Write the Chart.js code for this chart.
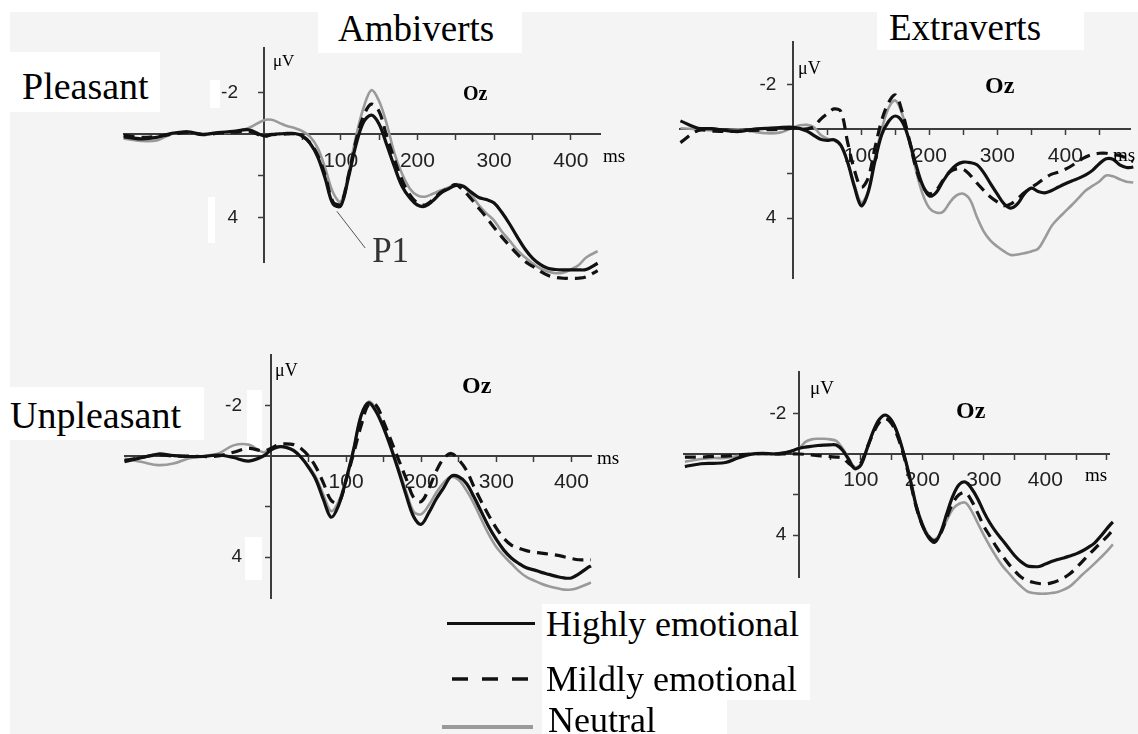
<!DOCTYPE html>
<html>
<head>
<meta charset="utf-8">
<title>Oz ERPs by personality and emotional intensity</title>
<script src="https://cdn.jsdelivr.net/npm/chart.js@4.4.1/dist/chart.umd.min.js"></script>
<style>
  html, body { margin: 0; padding: 0; }
  body { width: 1138px; height: 734px; position: relative; overflow: hidden; background: #f4f4f4;
         font-family: 'Liberation Serif', 'Times New Roman', serif; color: #000; }
  .white { position: absolute; background: #fff; }
  .lbl { position: absolute; white-space: nowrap; line-height: 1; }
  .oz { font-weight: bold; }
  canvas { position: absolute; }
</style>
</head>
<body>
<div class="white" style="left:0;top:0;width:1138px;height:12px"></div>
<div class="white" style="left:0;top:0;width:10px;height:734px"></div>

<div class="white" style="left:318px;top:0;width:204px;height:53px"></div>
<div class="lbl" style="left:338px;top:10px;font-size:37px">Ambiverts</div>
<div class="white" style="left:877px;top:0;width:207px;height:50px"></div>
<div class="lbl" style="left:889px;top:9px;font-size:37px">Extraverts</div>
<div class="white" style="left:10px;top:52px;width:150px;height:60px"></div>
<div class="lbl" style="left:22px;top:67px;font-size:38px">Pleasant</div>
<div class="white" style="left:10px;top:387px;width:194px;height:53px"></div>
<div class="lbl" style="left:10px;top:396px;font-size:38px">Unpleasant</div>

<!-- pasted-over patches in the source figure -->
<div class="white" style="left:210px;top:80px;width:10px;height:28px"></div>
<div class="white" style="left:208px;top:197px;width:7px;height:46px"></div>
<div class="white" style="left:247px;top:390px;width:15px;height:64px"></div>
<div class="white" style="left:245px;top:537px;width:17px;height:43px"></div>

<canvas id="c1"></canvas>
<canvas id="c2"></canvas>
<canvas id="c3"></canvas>
<canvas id="c4"></canvas>

<div class="lbl" style="left:273px;top:52px;font-size:17px">μV</div>
<div class="lbl oz" style="left:463px;top:83px;font-size:20px">Oz</div>
<div class="lbl" style="left:603px;top:146px;font-size:19px">ms</div>

<div class="lbl" style="left:798px;top:59px;font-size:18px">μV</div>
<div class="lbl oz" style="left:985px;top:73px;font-size:24px">Oz</div>
<div class="lbl" style="left:1113px;top:145px;font-size:19px">ms</div>

<div class="lbl" style="left:275px;top:361px;font-size:18px">μV</div>
<div class="lbl oz" style="left:462px;top:373px;font-size:24px">Oz</div>
<div class="lbl" style="left:597px;top:448px;font-size:19px">ms</div>

<div class="lbl" style="left:810px;top:378px;font-size:19px">μV</div>
<div class="lbl oz" style="left:956px;top:398px;font-size:24px">Oz</div>
<div class="lbl" style="left:1085px;top:465px;font-size:19px">ms</div>

<div class="white" style="left:542px;top:604px;width:268px;height:96px"></div>
<div class="white" style="left:542px;top:700px;width:185px;height:34px"></div>
<div style="position:absolute;left:447px;top:622px;width:88px;height:3px;background:#111"></div>
<svg style="position:absolute;left:452px;top:676px" width="80" height="6">
  <line x1="0" y1="3" x2="78" y2="3" stroke="#111" stroke-width="3.5" stroke-dasharray="16 14"/>
</svg>
<div style="position:absolute;left:442px;top:725px;width:91px;height:4px;background:#9a9a9a"></div>
<div class="lbl" style="left:546px;top:606px;font-size:36px">Highly emotional</div>
<div class="lbl" style="left:546px;top:661px;font-size:36px">Mildly emotional</div>
<div class="lbl" style="left:548px;top:702px;font-size:36px">Neutral</div>

<script>
// labels and ticks
const seriesNames = ['Highly emotional', 'Mildly emotional', 'Neutral'];
const xTickLabels = [100, 200, 300, 400];
const yTickLabels = [-2, 4];

// Ambiverts, pleasant (ms / µV, negative up)
const p1Times = [-183, -160, -140, -120, -100, -80, -60, -40, -20,
  0, 10, 20, 30, 40, 50, 60, 70, 80, 90, 100, 110, 120, 130, 140, 150, 160, 170, 180, 190,
  200, 210, 220, 230, 240, 250, 260, 270, 280, 290, 300, 310, 320, 330, 340, 350, 360, 370, 380, 390,
  400, 410, 420, 435];
const p1High = [0.12, 0.22, 0.15, -0.05, -0.12, 0, -0.08, -0.14, -0.22,
  0.08, 0.0, -0.02, -0.04, -0.04, 0.08, 0.43, 1.08, 2.15, 3.35, 3.45, 2.1, 0.5, -0.6, -0.92, -0.5, 0.5, 1.55, 2.5, 3.05,
  3.4, 3.46, 3.2, 2.84, 2.63, 2.46, 2.5, 2.78, 3.04, 3.14, 3.3, 3.75, 4.3, 4.92, 5.5, 5.95, 6.25, 6.44, 6.5, 6.52,
  6.52, 6.52, 6.5, 6.2];
const p1Mild = [0.05, 0.15, 0.1, 0.0, -0.1, 0.02, -0.05, -0.1, -0.15,
  0.1, 0.02, 0.0, -0.02, -0.02, 0.1, 0.4, 1.0, 2.0, 3.25, 3.35, 2.0, 0.3, -0.9, -1.45, -1.1, 0.1, 1.2, 2.2, 2.9,
  3.3, 3.4, 3.15, 2.8, 2.6, 2.42, 2.7, 3.1, 3.55, 4.0, 4.48, 4.93, 5.35, 5.75, 6.1, 6.34, 6.58, 6.78, 6.88, 6.92,
  6.92, 6.92, 6.85, 6.55];
const p1Neutral = [0.2, 0.32, 0.3, -0.02, -0.1, 0.0, -0.05, -0.1, -0.3,
  -0.68, -0.7, -0.55, -0.4, -0.3, -0.15, 0.11, 0.65, 1.65, 2.8, 3.25, 1.9, 0.1, -1.3, -2.12, -1.6, -0.5, 0.9, 1.9, 2.6,
  2.94, 3.0, 2.86, 2.7, 2.57, 2.4, 2.5, 2.9, 3.4, 3.8, 4.15, 4.67, 5.1, 5.56, 5.9, 6.2, 6.45, 6.6, 6.68, 6.65,
  6.5, 6.3, 5.92, 5.62];

// Extraverts, pleasant
const p2Times = [-166, -140, -120, -100, -80, -60, -40, -20,
  0, 10, 20, 30, 40, 50, 60, 70, 80, 90, 100, 110, 120, 130, 140, 150, 160, 170, 180, 190,
  200, 210, 220, 230, 240, 250, 260, 270, 280, 290, 300, 310, 320, 330, 340, 350, 360, 370, 380, 390,
  400, 410, 420, 430, 440, 450, 460, 470, 480, 490, 500, 507];
const p2High = [-0.38, -0.05, -0.03, 0.05, 0.1, 0.0, -0.04, -0.08,
  -0.09, -0.03, 0.08, 0.27, 0.45, 0.5, 0.47, 0.72, 1.5, 2.6, 3.45, 2.85, 1.45, 0.25, -0.35, -0.6, -0.35, 0.45, 1.55, 2.5,
  3.0, 2.85, 2.35, 1.9, 1.6, 1.48, 1.5, 1.6, 1.95, 2.45, 2.92, 3.36, 3.55, 3.35, 2.9, 2.65, 2.8, 2.86, 2.76, 2.6,
  2.45, 2.32, 2.2, 2.05, 1.85, 1.55, 1.33, 1.35, 1.6, 1.72, 1.7, 1.6];
const p2Mild = [0.6, 0.05, 0.08, 0.1, 0.08, 0.05, 0.02, 0.0,
  -0.05, 0.0, -0.02, -0.12, -0.45, -0.7, -0.92, -0.8, 0.6, 1.85, 2.6, 2.2, 0.85, -0.4, -1.2, -1.55, -0.8, 0.4, 1.7, 2.55,
  2.9, 2.75, 2.3, 1.92, 1.78, 1.8, 2.06, 2.42, 2.75, 3.05, 3.27, 3.44, 3.36, 3.12, 2.85, 2.62, 2.42, 2.2, 2.02, 1.93,
  1.8, 1.63, 1.42, 1.25, 1.13, 1.08, 1.08, 1.14, 1.18, 1.3, 1.45, 1.5];
const p2Neutral = [-0.05, 0.0, 0.05, 0.05, 0.0, 0.1, 0.18, 0.15,
  -0.08, -0.18, -0.2, -0.1, 0.25, 0.42, 0.5, 0.75, 1.5, 2.5, 3.3, 2.8, 1.3, 0.0, -0.95, -1.3, -0.7, 0.5, 1.8, 2.9,
  3.55, 3.75, 3.72, 3.3, 2.98, 2.9, 3.18, 3.95, 4.6, 5.02, 5.28, 5.5, 5.66, 5.64, 5.58, 5.5, 5.38, 4.9, 4.35, 4.0,
  3.7, 3.4, 3.08, 2.76, 2.55, 2.35, 2.08, 2.12, 2.25, 2.36, 2.4, 2.43];

// Ambiverts, unpleasant
const p3Times = [-195, -170, -150, -130, -110, -90, -70, -50, -30, -10,
  0, 10, 20, 30, 40, 50, 60, 70, 80, 90, 100, 110, 120, 130, 140, 150, 160, 170, 180, 190,
  200, 210, 220, 230, 240, 250, 260, 270, 280, 290, 300, 310, 320, 330, 340, 350, 360, 370, 380, 390,
  400, 410, 420, 426];
const p3High = [0.22, 0.05, -0.08, -0.02, 0.02, 0.02, -0.04, 0.06, 0.2, 0.0,
  -0.24, -0.36, -0.34, -0.22, 0.05, 0.45, 0.95, 1.74, 2.42, 1.95, 0.95, -0.25, -1.6, -2.1, -1.75, -1.1, -0.3, 0.6, 1.55, 2.4,
  2.7, 2.25, 1.7, 1.25, 0.8, 0.82, 1.08, 1.6, 2.2, 2.8, 3.3, 3.72, 4.03, 4.25, 4.42, 4.5, 4.6, 4.68, 4.76, 4.82,
  4.82, 4.66, 4.45, 4.34];
const p3Mild = [0.18, 0.05, -0.05, 0.0, 0.0, 0.02, 0.0, -0.15, -0.3, -0.2,
  -0.3, -0.45, -0.48, -0.45, -0.3, 0.0, 0.45, 1.08, 1.75, 1.85, 0.95, -0.1, -1.2, -2.05, -2.0, -1.35, -0.6, 0.15, 0.9, 1.65,
  1.8, 1.3, 0.6, 0.1, -0.1, 0.15, 0.55, 1.2, 1.8, 2.35, 2.85, 3.25, 3.52, 3.65, 3.74, 3.8, 3.84, 3.88, 3.92, 3.98,
  4.05, 4.1, 4.1, 4.1];
const p3Neutral = [0.1, 0.25, 0.36, 0.3, 0.1, 0.0, -0.1, -0.42, -0.45, -0.15,
  -0.3, -0.38, -0.36, -0.2, 0.05, 0.4, 0.85, 1.55, 2.18, 1.8, 0.85, -0.3, -1.6, -2.15, -1.85, -1.15, -0.35, 0.5, 1.4, 2.2,
  2.3, 1.95, 1.45, 1.05, 0.82, 0.95, 1.35, 1.87, 2.5, 3.1, 3.6, 3.95, 4.25, 4.55, 4.78, 4.92, 5.05, 5.15, 5.22, 5.28,
  5.28, 5.2, 5.08, 5.0];

// Extraverts, unpleasant
const p4Times = [-186, -160, -140, -120, -100, -80, -60, -40, -20,
  0, 10, 20, 30, 40, 50, 60, 70, 80, 90, 100, 110, 120, 130, 140, 150, 160, 170, 180, 190,
  200, 210, 220, 230, 240, 250, 260, 270, 280, 290, 300, 310, 320, 330, 340, 350, 360, 370, 380, 390,
  400, 410, 420, 430, 440, 450, 460, 470, 480, 490, 500, 510, 520, 528];
const p4High = [0.62, 0.48, 0.46, 0.42, 0.2, 0.02, -0.03, 0.0, -0.08,
  -0.28, -0.34, -0.38, -0.42, -0.44, -0.45, -0.44, -0.2, 0.25, 0.72, 0.55, -0.25, -1.1, -1.7, -1.92, -1.65, -1.0, 0.0, 1.2, 2.55,
  3.5, 4.1, 4.35, 3.85, 2.92, 2.05, 1.5, 1.38, 1.7, 2.2, 2.85, 3.4, 3.85, 4.23, 4.62, 5.0, 5.3, 5.5, 5.55, 5.54,
  5.42, 5.3, 5.2, 5.12, 5.02, 4.92, 4.78, 4.6, 4.39, 4.05, 3.68, 3.35, 3.15, 3.0];
const p4Mild = [0.15, 0.15, 0.12, 0.1, 0.05, 0.0, -0.02, 0.0, 0.0,
  0.0, 0.02, 0.05, 0.08, 0.1, 0.13, 0.15, 0.2, 0.45, 0.65, 0.45, -0.3, -1.0, -1.55, -1.75, -1.5, -0.85, 0.1, 1.3, 2.6,
  3.5, 4.05, 4.28, 3.9, 3.1, 2.4, 2.0, 1.9, 2.3, 2.9, 3.55, 4.05, 4.55, 5.0, 5.4, 5.75, 6.05, 6.22, 6.32, 6.38,
  6.4, 6.35, 6.25, 6.1, 5.9, 5.62, 5.3, 4.98, 4.68, 4.38, 4.08, 3.75, 3.5, 3.3];
const p4Neutral = [0.38, 0.25, 0.2, 0.2, 0.1, 0.0, 0.0, -0.02, -0.1,
  -0.3, -0.6, -0.72, -0.75, -0.75, -0.72, -0.65, -0.3, 0.2, 0.65, 0.5, -0.25, -1.1, -1.7, -1.9, -1.65, -1.0, 0.0, 1.2, 2.5,
  3.4, 4.0, 4.2, 3.9, 3.25, 2.7, 2.45, 2.4, 2.8, 3.4, 4.0, 4.55, 5.05, 5.5, 5.85, 6.2, 6.5, 6.75, 6.85, 6.88,
  6.88, 6.85, 6.8, 6.68, 6.52, 6.25, 5.95, 5.68, 5.4, 5.1, 4.8, 4.45, 4.15, 3.9];

// where each panel sits on the page (pixels)
const panels = [
  { id: 'c1', axisX: 264, zeroY: 134.3, pxPerMs: 0.767, pxPerUv: 20.8, left: 124, right: 600, top: 48, bottom: 262, yGap: 26 },
  { id: 'c2', axisX: 793.3, zeroY: 129.3, pxPerMs: 0.68, pxPerUv: 22.2, left: 680, right: 1130, top: 42, bottom: 278, yGap: 17 },
  { id: 'c3', axisX: 271, zeroY: 456, pxPerMs: 0.751, pxPerUv: 25.3, left: 125, right: 591, top: 355, bottom: 598, yGap: 29 },
  { id: 'c4', axisX: 799.3, zeroY: 454, pxPerMs: 0.615, pxPerUv: 20.3, left: 684, right: 1109, top: 372, bottom: 577, yGap: 13 }
];

const PAD = 30;
const tickFont = "'Liberation Sans Narrow', 'Liberation Sans', Arial, sans-serif";
const axisColor = '#3c3c3c';
Chart.defaults.font.family = tickFont;

const yLabelPlugin = {
  id: 'yLabels',
  beforeDatasetsDraw(chart, args, opts) {
    const { ctx, scales: { x, y } } = chart;
    const x0 = x.getPixelForValue(0);
    ctx.save();
    ctx.font = '19px ' + tickFont;
    ctx.fillStyle = '#222';
    ctx.textAlign = 'right';
    ctx.textBaseline = 'middle';
    yTickLabels.forEach(v => ctx.fillText(String(v), x0 - opts.gap, y.getPixelForValue(v)));
    ctx.restore();
  }
};

// pointer from the P1 trough to its label (panel 1 only)
const p1Note = {
  id: 'p1Note',
  afterDatasetsDraw(chart) {
    const { ctx, scales: { x, y } } = chart;
    ctx.save();
    ctx.strokeStyle = '#555';
    ctx.lineWidth = 1;
    ctx.beginPath();
    ctx.moveTo(x.getPixelForValue(95), y.getPixelForValue(3.7));
    ctx.lineTo(x.getPixelForValue(132), y.getPixelForValue(5.47));
    ctx.stroke();
    ctx.font = "35px 'Liberation Serif', serif";
    ctx.fillStyle = '#333';
    ctx.textBaseline = 'alphabetic';
    ctx.fillText('P1', x.getPixelForValue(141), y.getPixelForValue(6.14));
    ctx.restore();
  }
};

function buildPanel(p, times, high, mild, neutral, extra) {
  const canvas = document.getElementById(p.id);
  canvas.width = p.right - p.left + 2 * PAD;
  canvas.height = p.bottom - p.top + 2 * PAD;
  canvas.style.left = (p.left - PAD) + 'px';
  canvas.style.top = (p.top - PAD) + 'px';
  canvas.style.width = canvas.width + 'px';
  canvas.style.height = canvas.height + 'px';

  const pts = vals => times.map((t, i) => ({ x: t, y: vals[i] }));
  const line = (label, vals, color, width, dash) => ({
    label, data: pts(vals), borderColor: color, borderWidth: width, borderDash: dash,
    pointRadius: 0, tension: 0.35, fill: false, clip: false
  });
  const tickCol = show => ctx => (ctx.tick && show(ctx.tick.value) ? axisColor : 'rgba(0,0,0,0)');

  return new Chart(canvas, {
    type: 'line',
    data: {
      datasets: [
        line(seriesNames[0], high, '#111', 3.2, []),
        line(seriesNames[1], mild, '#111', 3.2, [11, 7]),
        line(seriesNames[2], neutral, '#9a9a9a', 2.6, [])
      ]
    },
    options: {
      responsive: false,
      animation: false,
      events: [],
      layout: { padding: PAD },
      plugins: { legend: { display: false }, tooltip: { enabled: false }, yLabels: { gap: p.yGap } },
      scales: {
        x: {
          type: 'linear',
          min: (p.left - p.axisX) / p.pxPerMs,
          max: (p.right - p.axisX) / p.pxPerMs,
          position: { y: 0 },
          ticks: {
            stepSize: 50, includeBounds: false, autoSkip: false, maxRotation: 0, maxTicksLimit: 40,
            padding: 9, color: '#222', font: { size: 21 },
            callback: v => (xTickLabels.includes(v) ? String(v) : '')
          },
          grid: { drawOnChartArea: false, tickLength: 5, tickWidth: 1.5, color: axisColor, tickColor: tickCol(v => v > 0) },
          border: { display: true, color: axisColor, width: 2 }
        },
        y: {
          type: 'linear',
          reverse: true,
          min: (p.top - p.zeroY) / p.pxPerUv,
          max: (p.bottom - p.zeroY) / p.pxPerUv,
          position: { x: 0 },
          ticks: { stepSize: 2, includeBounds: false, display: false },
          grid: { drawOnChartArea: false, tickLength: 5, tickWidth: 1.5, color: axisColor, tickColor: tickCol(v => v === -2 || v === 2 || v === 4) },
          border: { display: true, color: axisColor, width: 2 }
        }
      }
    },
    plugins: [yLabelPlugin].concat(extra || [])
  });
}

buildPanel(panels[0], p1Times, p1High, p1Mild, p1Neutral, [p1Note]);
buildPanel(panels[1], p2Times, p2High, p2Mild, p2Neutral);
buildPanel(panels[2], p3Times, p3High, p3Mild, p3Neutral);
buildPanel(panels[3], p4Times, p4High, p4Mild, p4Neutral);
</script>
</body>
</html>
